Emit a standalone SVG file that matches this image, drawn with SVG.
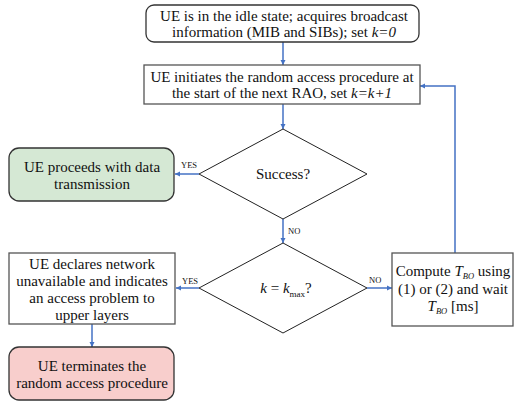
<svg xmlns="http://www.w3.org/2000/svg" width="514" height="405" viewBox="0 0 514 405">
<defs>
<marker id="ah" markerWidth="6" markerHeight="6" refX="5" refY="3" orient="auto" markerUnits="userSpaceOnUse">
<path d="M0,0.5 L5,3 L0,5.5 Z" fill="#4472c4"/>
</marker>
<style>
text{font-family:'Liberation Serif','Times New Roman','DejaVu Serif',serif}
.t{font-size:15px;fill:#111;text-anchor:middle}
.l{font-size:8.5px;fill:#111}
.i{font-style:italic}
.box{fill:#fff;stroke:#555;stroke-width:1.3}
.rbox{stroke:#333;stroke-width:1.3}
.dia{fill:#fff;stroke:#222;stroke-width:1}
.c{fill:none;stroke:#4472c4;stroke-width:1.5;marker-end:url(#ah)}
</style>
</defs>
<rect width="514" height="405" fill="#fff"/>
<g id="connectors">
<line class="c" x1="283" y1="42" x2="283" y2="65"/>
<line class="c" x1="283" y1="104" x2="283" y2="129"/>
<line class="c" x1="199" y1="174" x2="175" y2="174"/>
<line class="c" x1="283" y1="219" x2="283" y2="243"/>
<line class="c" x1="199" y1="288" x2="176" y2="288"/>
<line class="c" x1="367" y1="288" x2="392" y2="288"/>
<line class="c" x1="92" y1="324" x2="92" y2="347"/>
<polyline class="c" points="455,253 455,86 420,86"/>
<text class="l" x="181" y="168">YES</text>
<text class="l" x="288" y="234">NO</text>
<text class="l" x="182" y="284">YES</text>
<text class="l" x="369" y="283">NO</text>
</g>
<g id="idle">
<rect class="rbox" x="146" y="5" width="273" height="37" rx="8" fill="#fff"/>
<text class="t" x="284" y="21">UE is in the idle state; acquires broadcast</text>
<text class="t" x="284" y="37">information (MIB and SIBs); set <tspan class="i">k=0</tspan></text>
</g>
<g id="initiate">
<rect class="box" x="144" y="65" width="276" height="39"/>
<text class="t" x="282" y="82">UE initiates the random access procedure at</text>
<text class="t" x="282" y="98">the start of the next RAO, set <tspan class="i">k=k+1</tspan></text>
</g>
<g id="success">
<polygon class="dia" points="283,129 367,174 283,219 199,174"/>
<text class="t" x="283" y="179">Success?</text>
</g>
<g id="proceed">
<rect class="rbox" x="9" y="148" width="165" height="53" rx="10" fill="#d5e8d4"/>
<text class="t" x="92" y="172">UE proceeds with data</text>
<text class="t" x="92" y="189">transmission</text>
</g>
<g id="kmax">
<polygon class="dia" points="283,243 367,288 283,333 199,288"/>
<text class="t" x="286" y="293"><tspan class="i">k</tspan> = <tspan class="i">k</tspan><tspan font-size="9" dy="4">max</tspan><tspan dy="-4">?</tspan></text>
</g>
<g id="declare">
<rect class="box" x="9" y="253" width="166" height="71"/>
<text class="t" x="92" y="269">UE declares network</text>
<text class="t" x="92" y="286">unavailable and indicates</text>
<text class="t" x="92" y="303">an access problem to</text>
<text class="t" x="92" y="320">upper layers</text>
</g>
<g id="terminate">
<rect class="rbox" x="9" y="347" width="165" height="53" rx="10" fill="#f8cecc"/>
<text class="t" x="92" y="371">UE terminates the</text>
<text class="t" x="92" y="388">random access procedure</text>
</g>
<g id="compute">
<rect class="box" x="392" y="253" width="121" height="73"/>
<text class="t" x="453" y="276">Compute <tspan class="i">T</tspan><tspan class="i" font-size="8.5" dy="3">BO</tspan><tspan dy="-3"> using</tspan></text>
<text class="t" x="453" y="294">(1) or (2) and wait</text>
<text class="t" x="453" y="311"><tspan class="i">T</tspan><tspan class="i" font-size="8.5" dy="3">BO</tspan><tspan dy="-3"> [ms]</tspan></text>
</g>
</svg>
